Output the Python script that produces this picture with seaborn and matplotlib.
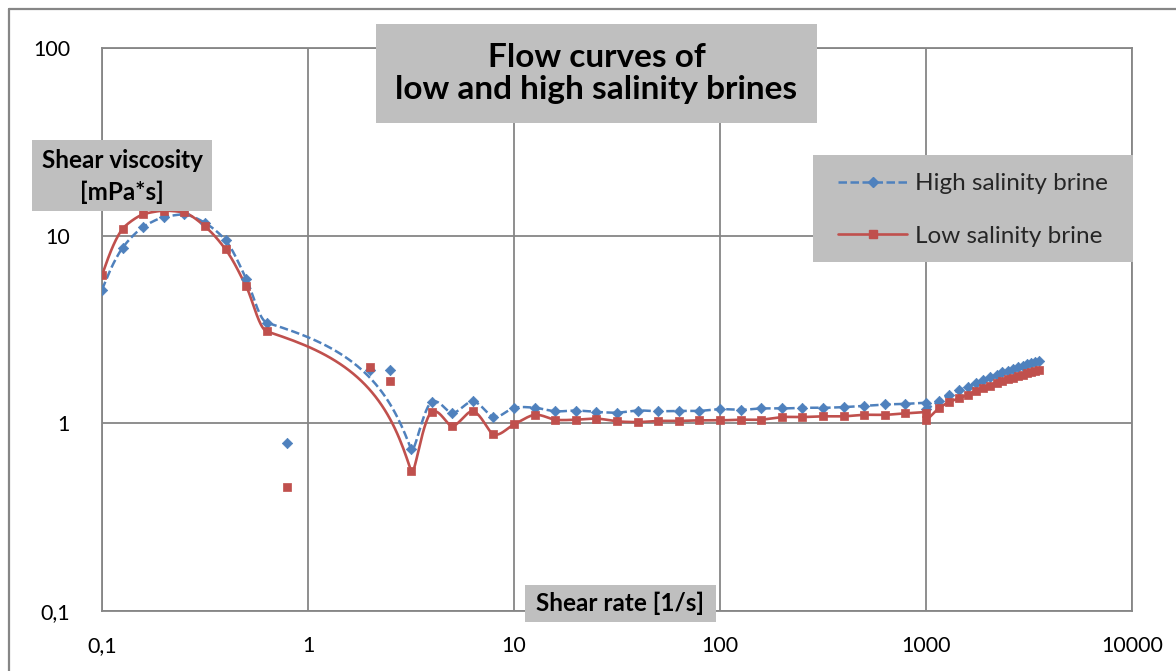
import numpy as np
import pandas as pd
import matplotlib
matplotlib.use("Agg")
import matplotlib.pyplot as plt
import seaborn as sns
from matplotlib.patches import Rectangle
from matplotlib.lines import Line2D
from matplotlib.ticker import FixedLocator, FuncFormatter, NullLocator

# ---- measured flow curves (shear rate in 1/s, viscosity in mPa*s) ----
shear_rate = [0.1, 0.126, 0.158, 0.2, 0.251, 0.316, 0.398, 0.501, 0.631,
              3.16, 3.98, 5.01, 6.31, 7.94,
              10, 12.6, 15.8, 20, 25.1, 31.6, 39.8, 50.1, 63.1, 79.4,
              100, 126, 158, 200, 251, 316, 398, 501, 631, 794,
              1000, 1000,
              1150, 1300, 1450, 1600, 1750, 1900, 2050, 2200, 2350, 2500,
              2650, 2800, 2950, 3100, 3250, 3400, 3550]
visc_high = [5.16, 8.63, 11.1, 12.6, 13.0, 11.7, 9.44, 5.9, 3.44,
             0.733, 1.30, 1.135, 1.31, 1.08,
             1.21, 1.21, 1.16, 1.17, 1.15, 1.14, 1.17, 1.16, 1.165, 1.165,
             1.19, 1.18, 1.20, 1.20, 1.21, 1.21, 1.22, 1.24, 1.26, 1.27,
             1.28, 1.19,
             1.31, 1.42, 1.50, 1.57, 1.64, 1.70, 1.76, 1.82, 1.87, 1.91,
             1.95, 1.99, 2.02, 2.06, 2.09, 2.12, 2.15]
visc_low = [6.14, 10.9, 13.0, 13.6, 13.3, 11.2, 8.45, 5.37, 3.09,
            0.56, 1.15, 0.968, 1.16, 0.874,
            0.988, 1.11, 1.046, 1.046, 1.06, 1.025, 1.016, 1.03, 1.03, 1.037,
            1.037, 1.046, 1.046, 1.08, 1.08, 1.09, 1.09, 1.11, 1.11, 1.13,
            1.14, 1.04,
            1.20, 1.30, 1.36, 1.42, 1.49, 1.54, 1.59, 1.64, 1.68, 1.72,
            1.75, 1.78, 1.82, 1.85, 1.88, 1.91, 1.93]

# readings that sit off the connected curves
extra_rate = [0.794, 2.0, 2.51]
extra_high = [0.79, 1.93, 1.92]
extra_low = [0.458, 2.0, 1.69]

series_names = ["High salinity brine", "Low salinity brine"]
x_ticks = [0.1, 1, 10, 100, 1000, 10000]
y_ticks = [0.1, 1, 10, 100]

BLUE = "#4F81BD"
RED = "#C0504D"
GRID = "#868686"
BOX = "#BFBFBF"
FONT = "Lato"
DASH = (0, (3.4, 1.4))

W, H = 1176, 671


def smooth_curve(x, y, n=40):
    """Bezier smoothing through every point, built on the raw data values.

    Control arms follow the neighbouring points (1/6 tension); an arm is
    shortened when its segment is shorter than the neighbouring one, and it
    never reaches past half of its segment in x.
    """
    P = np.column_stack([np.asarray(x, float), np.asarray(y, float)])
    Q = np.vstack([P[0], P, P[-1]])
    t = np.linspace(0, 1, n)[:, None]
    parts = []
    for i in range(len(P) - 1):
        p0, p1, p2, p3 = Q[i], Q[i + 1], Q[i + 2], Q[i + 3]
        d01 = np.hypot(*(p1 - p0))
        d12 = np.hypot(*(p2 - p1))
        d23 = np.hypot(*(p3 - p2))
        a = (p2 - p0) / 6.0
        b = (p3 - p1) / 6.0
        if d01 > 0 and d12 < d01:
            a = a * d12 / d01
        if d23 > 0 and d12 < d23:
            b = b * d12 / d23
        half = abs(p2[0] - p1[0]) / 2.0
        if abs(a[0]) > half:
            a = a * (half / abs(a[0]))
        if abs(b[0]) > half:
            b = b * (half / abs(b[0]))
        c1, c2 = p1 + a, p2 - b
        seg = ((1 - t) ** 3) * p1 + 3 * ((1 - t) ** 2) * t * c1 \
            + 3 * (1 - t) * t ** 2 * c2 + t ** 3 * p2
        parts.append(seg if i == 0 else seg[1:])
    S = np.vstack(parts)
    return S[:, 0], S[:, 1]


def fx(px):
    return px / W


def fy(py):
    return 1 - py / H


sns.set_theme(style="white")
plt.rcParams["font.family"] = [FONT, "DejaVu Sans"]

fig = plt.figure(figsize=(W / 100, H / 100), dpi=100)
ax = fig.add_axes([fx(102), fy(611), fx(1132) - fx(102), fy(48) - fy(611)])

main = pd.DataFrame({"rate": shear_rate, "high": visc_high, "low": visc_low})
extra = pd.DataFrame({"rate": extra_rate, "high": extra_high, "low": extra_low})

# smoothed connecting lines
hx, hy = smooth_curve(main["rate"], main["high"])
lx, ly = smooth_curve(main["rate"], main["low"])
sns.lineplot(x=hx, y=hy, sort=False, estimator=None, color=BLUE,
             linewidth=1.8, linestyle=DASH, ax=ax, zorder=3)
sns.lineplot(x=lx, y=ly, sort=False, estimator=None, color=RED,
             linewidth=1.9, ax=ax, zorder=4)

# markers
for df in (main, extra):
    sns.scatterplot(x=df["rate"], y=df["high"], marker="D", s=28, color=BLUE,
                    edgecolor=BLUE, linewidth=0.5, ax=ax, zorder=5)
    sns.scatterplot(x=df["rate"], y=df["low"], marker="s", s=32, color=RED,
                    edgecolor=RED, linewidth=0.5, ax=ax, zorder=6)

ax.set_xscale("log")
ax.set_yscale("log")
ax.set_xlim(x_ticks[0], x_ticks[-1])
ax.set_ylim(y_ticks[0], y_ticks[-1])


def comma_fmt(v, _pos):
    return f"{v:g}".replace(".", ",")


ax.xaxis.set_major_locator(FixedLocator(x_ticks))
ax.yaxis.set_major_locator(FixedLocator(y_ticks))
ax.xaxis.set_minor_locator(NullLocator())
ax.yaxis.set_minor_locator(NullLocator())
ax.xaxis.set_major_formatter(FuncFormatter(comma_fmt))
ax.yaxis.set_major_formatter(FuncFormatter(comma_fmt))
ax.tick_params(axis="both", length=0, labelsize=15.5, labelcolor="black")
ax.tick_params(axis="x", pad=18)
ax.tick_params(axis="y", pad=23)
ax.grid(True, which="major", color=GRID, linewidth=1.3)
for sp in ax.spines.values():
    sp.set_color(GRID)
    sp.set_linewidth(1.3)
ax.set_xlabel("")
ax.set_ylabel("")


def label_box(x0, y0, x1, y1, text, size, weight="bold", ls=1.2, dy=0):
    fig.patches.append(Rectangle((fx(x0), fy(y1)), fx(x1) - fx(x0),
                                 fy(y0) - fy(y1), transform=fig.transFigure,
                                 facecolor=BOX, edgecolor="none", zorder=10))
    fig.text(fx((x0 + x1) / 2), fy((y0 + y1) / 2 + dy), text, ha="center",
             va="center", fontsize=size, fontweight=weight, linespacing=ls,
             color="black", zorder=11)


# chart title and axis titles sit on grey boxes inside the plot
label_box(376, 24, 817, 123, "Flow curves of\nlow and high salinity brines", 24, ls=1.15)
label_box(32, 140, 212, 211, "Shear viscosity\n[mPa*s]", 17.5, ls=1.42, dy=1)
label_box(525, 585, 716, 622, "Shear rate [1/s]", 17.5)

# legend on a grey panel
fig.patches.append(Rectangle((fx(813), fy(262)), fx(1133) - fx(813),
                             fy(155) - fy(262), transform=fig.transFigure,
                             facecolor=BOX, edgecolor="none", zorder=10))
handles = [
    Line2D([], [], color=BLUE, linestyle=DASH, linewidth=1.8,
           marker="D", markersize=5),
    Line2D([], [], color=RED, linewidth=1.9, marker="s", markersize=6),
]
leg = fig.legend(handles, series_names, loc="center left",
                 bbox_to_anchor=(fx(838), fy(210)), frameon=False,
                 fontsize=17.5, handlelength=2.85, handletextpad=0.33,
                 labelspacing=1.28, borderaxespad=0, borderpad=0)
leg.set_zorder(12)

# outer chart frame
fig.add_artist(Line2D([fx(9), fx(9)], [fy(9), 0], transform=fig.transFigure,
                      color=GRID, linewidth=1.6))
fig.add_artist(Line2D([fx(9), 1], [fy(9), fy(9)], transform=fig.transFigure,
                      color=GRID, linewidth=1.6))

fig.savefig("out.png", dpi=100, facecolor="white")
